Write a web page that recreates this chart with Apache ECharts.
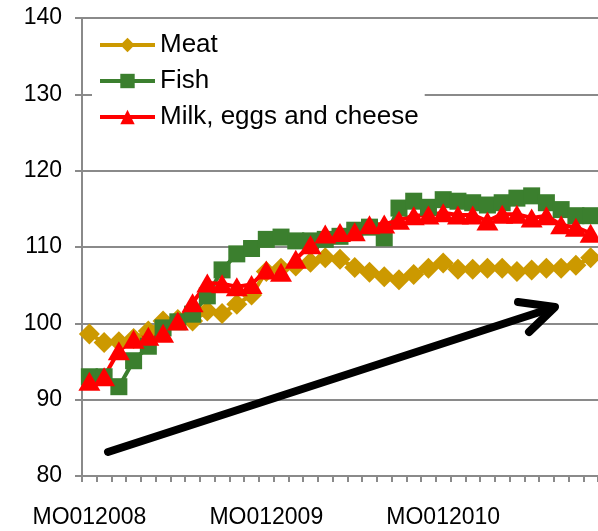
<!DOCTYPE html>
<html>
<head>
<meta charset="utf-8">
<script src="https://cdn.jsdelivr.net/npm/echarts@6/dist/echarts.min.js"></script>
<style>
  html, body { margin: 0; padding: 0; background: #fff; }
  #chart { width: 598px; height: 531px; }
</style>
</head>
<body>
<div id="chart"></div>
<script>
// months MO012008 .. MO112010
var months = [];
for (var y = 2008; y <= 2010; y++) {
    for (var m = 1; m <= 12; m++) {
        if (y == 2010 && m > 11) break;
        months.push('MO' + (m < 10 ? '0' + m : m) + y);
    }
}

var meat = [98.6, 97.5, 97.6, 98.0, 99.0, 100.3, 100.5, 100.3, 101.6, 101.3, 102.5, 103.7,
    106.8, 107.2, 107.5, 108.0, 108.6, 108.4, 107.3, 106.7, 106.1, 105.7, 106.4, 107.2,
    107.9, 107.1, 107.1, 107.2, 107.2, 106.8, 107.0, 107.2, 107.2, 107.6, 108.6];
var fish = [93.0, 93.0, 91.7, 95.1, 97.0, 99.4, 100.2, 101.2, 103.6, 107.0, 109.1, 109.8,
    111.0, 111.3, 110.8, 110.8, 111.0, 111.4, 112.2, 112.6, 111.2, 115.1, 116.0, 115.2,
    116.2, 116.0, 115.8, 115.5, 115.8, 116.4, 116.7, 115.8, 114.9, 114.1, 114.1];
var milk = [92.4, 93.0, 96.4, 97.9, 98.3, 98.7, 100.3, 102.7, 105.3, 105.2, 104.8, 105.1,
    107.0, 106.7, 108.4, 110.3, 111.7, 111.9, 112.0, 112.9, 113.0, 113.5, 114.1, 114.2,
    114.5, 114.2, 114.2, 113.4, 114.3, 114.3, 113.8, 114.1, 112.9, 112.6, 111.8];

var chart = echarts.init(document.getElementById('chart'), null, { renderer: 'canvas' });

var font = 'Liberation Sans, Arial, sans-serif';
var gray = '#8a8a8a';

var option = {
    animation: false,
    backgroundColor: '#fff',
    textStyle: { fontFamily: font },
    grid: { left: 82, right: 0, top: 18, bottom: 55 },
    legend: {
        orient: 'vertical',
        left: 92,
        top: 27,
        padding: [5, 6, 5, 6],
        backgroundColor: '#fff',
        itemWidth: 55,
        itemHeight: 18,
        itemGap: 10,
        lineStyle: { width: 4 },
        textStyle: { fontSize: 26, color: '#000', fontFamily: font, lineHeight: 26 },
        data: ['Meat', 'Fish', 'Milk, eggs and cheese']
    },
    xAxis: {
        type: 'category',
        data: months,
        boundaryGap: true,
        axisLine: { lineStyle: { color: gray, width: 2 } },
        axisTick: { show: true, interval: 0, length: 6, lineStyle: { color: gray, width: 2 } },
        axisLabel: { interval: 11, margin: 30, fontSize: 23, color: '#000', fontFamily: font },
        splitLine: { show: false }
    },
    yAxis: {
        type: 'value',
        min: 80,
        max: 140,
        interval: 10,
        axisLine: { show: true, lineStyle: { color: gray, width: 2 } },
        axisTick: { show: true, length: 7, lineStyle: { color: gray, width: 2 } },
        axisLabel: { margin: 20, fontSize: 23, color: '#000', fontFamily: font },
        splitLine: { show: true, lineStyle: { color: gray, width: 2 } }
    },
    series: [
        {
            name: 'Meat',
            type: 'line',
            data: meat,
            showAllSymbol: true,
            symbol: 'diamond',
            symbolSize: 21,
            itemStyle: { color: '#CC9900' },
            lineStyle: { color: '#CC9900', width: 4 }
        },
        {
            name: 'Fish',
            type: 'line',
            data: fish,
            showAllSymbol: true,
            symbol: 'rect',
            symbolSize: 17,
            itemStyle: { color: '#3B7F2E' },
            lineStyle: { color: '#3B7F2E', width: 4 }
        },
        {
            name: 'Milk, eggs and cheese',
            type: 'line',
            data: milk,
            showAllSymbol: true,
            symbol: 'triangle',
            symbolSize: [22, 19],
            itemStyle: { color: '#FF0000' },
            lineStyle: { color: '#FF0000', width: 4 }
        }
    ],
    // the black trend arrow drawn over the plot
    graphic: [
        {
            type: 'line',
            z: 100,
            shape: { x1: 108, y1: 452, x2: 552, y2: 308 },
            style: { stroke: '#000', lineWidth: 8, lineCap: 'round' }
        },
        {
            type: 'polyline',
            z: 100,
            shape: { points: [[518, 302], [555, 307], [529, 332]] },
            style: { stroke: '#000', fill: null, lineWidth: 8, lineCap: 'round', lineJoin: 'round' }
        }
    ]
};

chart.setOption(option);
</script>
</body>
</html>
